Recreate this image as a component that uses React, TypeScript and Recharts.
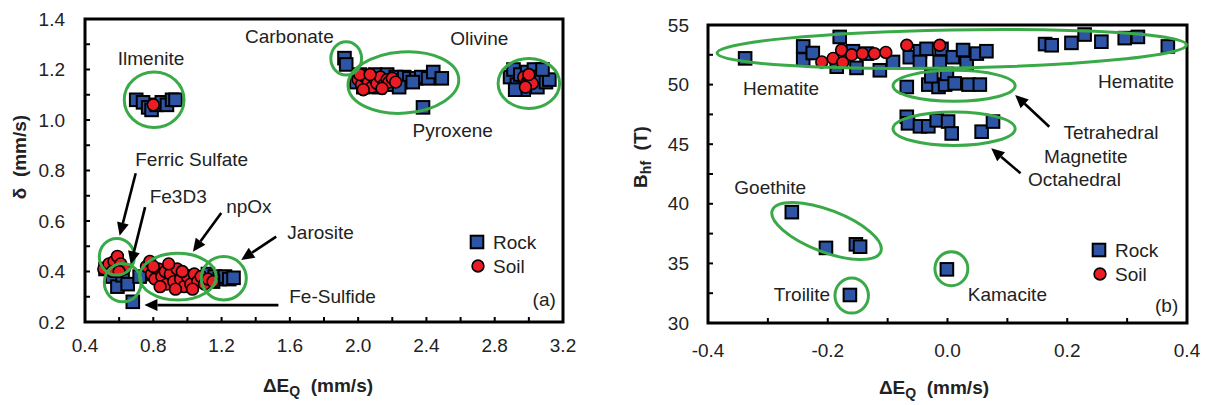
import React from "react"
import { ScatterChart, Scatter, XAxis, YAxis, ReferenceArea, ReferenceLine, ReferenceDot, Legend } from "recharts"

const FONT = '"Liberation Sans", Arial, sans-serif'
const BLUE = "#2E55A5"
const RED = "#EC1C24"
const GREEN = "#3AAA48"

// ---- panel (a): isomer shift vs quadrupole splitting ----
const xTicksA = [0.4, 0.6, 0.8, 1.0, 1.2, 1.4, 1.6, 1.8, 2.0, 2.2, 2.4, 2.6, 2.8, 3.0, 3.2]
const xLabelsA = [0.4, 0.8, 1.2, 1.6, 2.0, 2.4, 2.8, 3.2]
const yTicksA = [0.2, 0.3, 0.4, 0.5, 0.6, 0.7, 0.8, 0.9, 1.0, 1.1, 1.2, 1.3, 1.4]
const yLabelsA = [0.2, 0.4, 0.6, 0.8, 1.0, 1.2, 1.4]

const rockA: [number, number][] = [
  [0.7, 1.08], [0.74, 1.07], [0.77, 1.05], [0.79, 1.04], [0.82, 1.06], [0.85, 1.07], [0.88, 1.06], [0.91, 1.08], [0.93, 1.08],
  [1.92, 1.245], [1.93, 1.22],
  [1.99, 1.15], [2.01, 1.18], [2.03, 1.13], [2.05, 1.17], [2.07, 1.15], [2.1, 1.18], [2.12, 1.13], [2.14, 1.16], [2.17, 1.18],
  [2.19, 1.14], [2.22, 1.17], [2.25, 1.15], [2.27, 1.17], [2.3, 1.165], [2.34, 1.165], [2.37, 1.17], [2.41, 1.165], [2.44, 1.19],
  [2.49, 1.165], [2.38, 1.05], [2.24, 1.13], [2.32, 1.15],
  [2.89, 1.17], [2.91, 1.2], [2.93, 1.14], [2.95, 1.18], [2.97, 1.12], [2.99, 1.19], [3.01, 1.15], [3.03, 1.2], [3.05, 1.13],
  [3.07, 1.17], [3.1, 1.15], [3.12, 1.16], [2.92, 1.12], [3.08, 1.2],
  [0.52, 0.41], [0.56, 0.38], [0.59, 0.34], [0.62, 0.385], [0.65, 0.35], [0.68, 0.28], [0.72, 0.38], [0.8, 0.39], [0.88, 0.36],
  [0.95, 0.37], [1.02, 0.38], [1.08, 0.37], [1.12, 0.39], [1.16, 0.38], [1.19, 0.37], [1.22, 0.38], [1.245, 0.37], [1.27, 0.375],
  [1.15, 0.36],
]

const soilA: [number, number][] = [
  [0.8, 1.06],
  [2.0, 1.16], [2.02, 1.14], [2.04, 1.17], [2.06, 1.15], [2.08, 1.13], [2.1, 1.16], [2.11, 1.145], [2.13, 1.17], [2.15, 1.14],
  [2.17, 1.16], [2.18, 1.15], [2.2, 1.165], [2.22, 1.15], [2.03, 1.12], [2.01, 1.18], [2.07, 1.18], [2.14, 1.125],
  [2.97, 1.17], [2.99, 1.15], [3.0, 1.16], [3.01, 1.15], [3.02, 1.145], [3.0, 1.18], [2.98, 1.13],
  [0.51, 0.41], [0.54, 0.43], [0.57, 0.44], [0.59, 0.46], [0.61, 0.43], [0.63, 0.41], [0.56, 0.4], [0.6, 0.4],
  [0.76, 0.42], [0.78, 0.44], [0.79, 0.39], [0.81, 0.37], [0.83, 0.41], [0.85, 0.38], [0.87, 0.4], [0.88, 0.35], [0.9, 0.39],
  [0.92, 0.36], [0.94, 0.41], [0.96, 0.37], [0.98, 0.34], [1.0, 0.38], [1.02, 0.35], [1.04, 0.39], [1.06, 0.36], [1.08, 0.38],
  [1.1, 0.35], [1.12, 0.37], [1.15, 0.36], [0.84, 0.34], [0.93, 0.33], [1.03, 0.33], [0.8, 0.42], [0.89, 0.43], [0.97, 0.4],
]

const notesA: [string, number, number][] = [
  ["Ilmenite", 0.787, 1.242], ["Carbonate", 1.597, 1.329], ["Olivine", 2.71, 1.323], ["Pyroxene", 2.554, 0.96],
  ["Ferric Sulfate", 1.025, 0.842], ["Fe3D3", 0.946, 0.699], ["npOx", 1.36, 0.659], ["Jarosite", 1.78, 0.556],
  ["Fe-Sulfide", 1.85, 0.3], ["(a)", 3.09, 0.291],
]

// ellipse bounding boxes: x1, x2, y1, y2, tilt in degrees
const ringsA: [number, number, number, number, number][] = [
  [0.63, 0.98, 0.97, 1.19, 0], [1.84, 2.02, 1.178, 1.31, 0], [1.94, 2.59, 1.027, 1.27, -4], [2.82, 3.18, 1.046, 1.244, 0],
  [0.484, 0.689, 0.386, 0.531, 0], [0.513, 0.729, 0.28, 0.432, 0], [0.719, 1.169, 0.287, 0.472, 0], [1.081, 1.345, 0.287, 0.459, 0],
]

const arrowsA: [number, number, number, number][] = [
  [0.697, 0.789, 0.603, 0.542], [0.752, 0.655, 0.668, 0.428], [1.198, 0.632, 1.032, 0.478],
  [1.52, 0.538, 1.315, 0.446], [1.533, 0.267, 0.748, 0.267],
]

// ---- panel (b): hyperfine field vs quadrupole splitting ----
const xTicksB = [-0.4, -0.3, -0.2, -0.1, 0, 0.1, 0.2, 0.3, 0.4]
const xLabelsB = [-0.4, -0.2, 0, 0.2, 0.4]
const yTicksB = [30, 32.5, 35, 37.5, 40, 42.5, 45, 47.5, 50, 52.5, 55]
const yLabelsB = [30, 35, 40, 45, 50, 55]

const rockB: [number, number][] = [
  [-0.338, 52.2], [-0.241, 53.2], [-0.241, 52.1], [-0.225, 52.65], [-0.18, 54.0], [-0.185, 51.5], [-0.158, 52.8], [-0.152, 51.4],
  [-0.135, 52.6], [-0.113, 51.2], [-0.091, 51.9], [-0.063, 52.3], [-0.046, 52.8], [-0.035, 53.0], [-0.046, 51.9], [-0.013, 51.9],
  [-0.01, 53.0], [0.009, 52.3], [0.026, 52.9], [0.032, 51.8], [0.049, 52.6], [0.065, 52.8],
  [0.163, 53.4], [0.174, 53.3], [0.207, 53.5], [0.229, 54.2], [0.257, 53.6], [0.296, 53.9], [0.318, 54.0], [0.368, 53.2],
  [-0.068, 49.8], [-0.032, 50.0], [-0.015, 49.8], [-0.004, 50.0], [-0.001, 50.9], [0.012, 50.1], [0.035, 50.0], [0.054, 50.0],
  [-0.027, 50.7],
  [-0.068, 47.3], [-0.066, 46.75], [-0.046, 46.5], [-0.032, 46.5], [-0.018, 47.0], [0.001, 46.9], [0.007, 45.9], [0.057, 46.05],
  [0.076, 46.9],
  [-0.26, 39.3], [-0.203, 36.3], [-0.153, 36.6], [-0.146, 36.4],
  [-0.163, 32.35], [-0.001, 34.5],
]

const soilB: [number, number][] = [
  [-0.21, 51.9], [-0.191, 52.2], [-0.177, 52.9], [-0.175, 51.85], [-0.16, 52.5], [-0.142, 52.6], [-0.122, 52.6], [-0.103, 52.7],
  [-0.068, 53.3], [-0.013, 53.3],
]

const notesB: [string, number, number][] = [
  ["Hematite", -0.278, 49.67], ["Hematite", 0.315, 50.3], ["Tetrahedral", 0.273, 46.0], ["Magnetite", 0.231, 43.93],
  ["Octahedral", 0.212, 42.0], ["Goethite", -0.296, 41.4], ["Troilite", -0.243, 32.35], ["Kamacite", 0.1, 32.35],
  ["(b)", 0.366, 31.43],
]

const ringsB: [number, number, number, number, number][] = [
  [-0.385, 0.399, 51.39, 54.59, -1], [-0.091, 0.113, 48.6, 51.2, 0], [-0.091, 0.113, 44.9, 47.7, 0],
  [-0.299, -0.105, 35.96, 39.48, 21], [-0.188, -0.132, 30.83, 33.77, 0], [-0.021, 0.034, 33.12, 35.98, 0],
]

const arrowsB: [number, number, number, number][] = [
  [0.17, 46.47, 0.113, 49.13], [0.122, 42.56, 0.073, 44.66],
]

const toPts = (arr: [number, number][]) => arr.map(([x, y]) => ({ x, y }))
const near = (list: number[], v: number) => list.some((t) => Math.abs(t - v) < 1e-6)

const SQ = 12.6
const Square = (p: any) => (
  <rect x={p.cx - SQ / 2} y={p.cy - SQ / 2} width={SQ} height={SQ} fill={BLUE} stroke="#000" strokeWidth={2} />
)
const Dot = (p: any) => <circle cx={p.cx} cy={p.cy} r={5.9} fill={RED} stroke="#000" strokeWidth={1.6} />

function xTick(labels: number[], gap: number) {
  return (p: any) => {
    const v = p.payload.value
    return (
      <g>
        <line x1={p.x} x2={p.x} y1={p.y} y2={p.y - 5} stroke="#000" strokeWidth={2} />
        {near(labels, v) && (
          <text x={p.x} y={p.y + gap} textAnchor="middle" dominantBaseline="central" fontSize={19} fontFamily={FONT} fill="#222">
            {v.toFixed(1)}
          </text>
        )}
      </g>
    )
  }
}

function yTick(labels: number[], gap: number, digits: number) {
  return (p: any) => {
    const v = p.payload.value
    return (
      <g>
        <line x1={p.x} x2={p.x + 5} y1={p.y} y2={p.y} stroke="#000" strokeWidth={2} />
        {near(labels, v) && (
          <text x={p.x - gap} y={p.y} textAnchor="end" dominantBaseline="central" fontSize={19} fontFamily={FONT} fill="#222">
            {v.toFixed(digits)}
          </text>
        )}
      </g>
    )
  }
}

function ring(angle: number) {
  return (p: any) => {
    const cx = p.x + p.width / 2
    const cy = p.y + p.height / 2
    return (
      <ellipse cx={cx} cy={cy} rx={Math.abs(p.width) / 2} ry={Math.abs(p.height) / 2} fill="none" stroke={GREEN}
        strokeWidth={3} transform={`rotate(${angle} ${cx} ${cy})`} />
    )
  }
}

const Arrow = (p: any) => {
  const { x1, y1, x2, y2 } = p
  const len = Math.hypot(x2 - x1, y2 - y1) || 1
  const ux = (x2 - x1) / len
  const uy = (y2 - y1) / len
  const bx = x2 - ux * 13
  const by = y2 - uy * 13
  return (
    <g>
      <line x1={x1} y1={y1} x2={bx} y2={by} stroke="#000" strokeWidth={2.6} />
      <polygon points={`${x2},${y2} ${bx - uy * 6},${by + ux * 6} ${bx + uy * 6},${by - ux * 6}`} fill="#000" />
    </g>
  )
}

const note = (text: string) => (p: any) => (
  <text x={p.cx} y={p.cy} textAnchor="middle" dominantBaseline="central" fontSize={19} fontFamily={FONT} fill="#222">
    {text}
  </text>
)

const LegendBox = ({ sq, tx }: { sq: number; tx: number }) => (
  <svg width={100} height={50} style={{ overflow: "visible" }}>
    <rect x={sq - SQ / 2} y={12 - SQ / 2} width={SQ} height={SQ} fill={BLUE} stroke="#000" strokeWidth={2} />
    <text x={tx} y={12} dominantBaseline="central" fontSize={19} fontFamily={FONT} fill="#222">Rock</text>
    <circle cx={sq + 1} cy={36} r={5.9} fill={RED} stroke="#000" strokeWidth={1.6} />
    <text x={tx} y={36} dominantBaseline="central" fontSize={19} fontFamily={FONT} fill="#222">Soil</text>
  </svg>
)

type PanelProps = {
  width: number
  margin: { top: number; right: number; left: number; bottom: number }
  yWidth: number
  xHeight: number
  xDomain: [number, number]
  yDomain: [number, number]
  xTicks: number[]
  xLabels: number[]
  yTicks: number[]
  yLabels: number[]
  xGap: number
  yGap: number
  yDigits: number
  rock: [number, number][]
  soil: [number, number][]
  rings: [number, number, number, number, number][]
  arrows: [number, number, number, number][]
  notes: [string, number, number][]
  legendPos: { left: number; top: number }
}

function Panel(o: PanelProps) {
  return (
    <ScatterChart width={o.width} height={405} margin={o.margin}>
      <XAxis type="number" dataKey="x" domain={o.xDomain} ticks={o.xTicks} interval={0} allowDataOverflow
        axisLine={false} tickLine={false} tickSize={0} tickMargin={0} height={o.xHeight} tick={xTick(o.xLabels, o.xGap)} />
      <YAxis type="number" dataKey="y" domain={o.yDomain} ticks={o.yTicks} interval={0} allowDataOverflow
        axisLine={false} tickLine={false} tickSize={0} tickMargin={0} width={o.yWidth} tick={yTick(o.yLabels, o.yGap, o.yDigits)} />
      <ReferenceArea x1={o.xDomain[0]} x2={o.xDomain[1]} y1={o.yDomain[0]} y2={o.yDomain[1]} fill="none" stroke="#000"
        strokeWidth={3} fillOpacity={0} ifOverflow="visible" />
      <Scatter data={toPts(o.rock)} shape={Square} isAnimationActive={false} />
      <Scatter data={toPts(o.soil)} shape={Dot} isAnimationActive={false} />
      {o.rings.map(([x1, x2, y1, y2, a], i) => (
        <ReferenceArea key={`r${i}`} x1={x1} x2={x2} y1={y1} y2={y2} ifOverflow="visible" shape={ring(a)} zIndex={800} />
      ))}
      {o.arrows.map(([x1, y1, x2, y2], i) => (
        <ReferenceLine key={`a${i}`} segment={[{ x: x1, y: y1 }, { x: x2, y: y2 }]} ifOverflow="visible" shape={Arrow} zIndex={800} />
      ))}
      {o.notes.map(([t, x, y], i) => (
        <ReferenceDot key={`n${i}`} x={x} y={y} r={0} ifOverflow="visible" shape={note(t)} zIndex={800} />
      ))}
      <Legend layout="horizontal" align="center" verticalAlign="middle"
        wrapperStyle={{ left: o.legendPos.left, top: o.legendPos.top, width: 100 }}
        content={() => <LegendBox sq={12} tx={28} />} />
    </ScatterChart>
  )
}

const titleStyle: React.CSSProperties = {
  position: "absolute", fontFamily: FONT, fontWeight: "bold", fontSize: 19, color: "#222", whiteSpace: "nowrap",
  transform: "translate(-50%, -50%)",
}

export default function App() {
  return (
    <div style={{ position: "absolute", left: 0, top: 0, width: 1209, height: 405, background: "#fff" }}>
      <div style={{ position: "absolute", left: 0, top: 0 }}>
        <Panel width={600} margin={{ top: 19, right: 37, left: 0, bottom: 0 }} yWidth={85} xHeight={83}
          xDomain={[0.4, 3.2]} yDomain={[0.2, 1.4]} xTicks={xTicksA} xLabels={xLabelsA} yTicks={yTicksA} yLabels={yLabelsA}
          xGap={23} yGap={20} yDigits={1} rock={rockA} soil={soilA} rings={ringsA} arrows={arrowsA} notes={notesA}
          legendPos={{ left: 465, top: 230 }} />
      </div>
      <div style={{ position: "absolute", left: 600, top: 0 }}>
        <Panel width={609} margin={{ top: 25, right: 22, left: 0, bottom: 0 }} yWidth={108} xHeight={82}
          xDomain={[-0.4, 0.4]} yDomain={[30, 55]} xTicks={xTicksB} xLabels={xLabelsB} yTicks={yTicksB} yLabels={yLabelsB}
          xGap={27} yGap={19} yDigits={0} rock={rockB} soil={soilB} rings={ringsB} arrows={arrowsB} notes={notesB}
          legendPos={{ left: 487, top: 238 }} />
      </div>
      <div style={{ ...titleStyle, left: 318, top: 387 }}>
        ΔE<sub style={{ fontSize: 14 }}>Q</sub>&nbsp; (mm/s)
      </div>
      <div style={{ ...titleStyle, left: 934, top: 389 }}>
        ΔE<sub style={{ fontSize: 14 }}>Q</sub>&nbsp; (mm/s)
      </div>
      <div style={{ ...titleStyle, left: 20, top: 157, transform: "translate(-50%, -50%) rotate(-90deg)" }}>
        δ&nbsp; (mm/s)
      </div>
      <div style={{ ...titleStyle, left: 642, top: 157, transform: "translate(-50%, -50%) rotate(-90deg)" }}>
        B<sub style={{ fontSize: 14 }}>hf</sub>&nbsp; (T)
      </div>
    </div>
  )
}
